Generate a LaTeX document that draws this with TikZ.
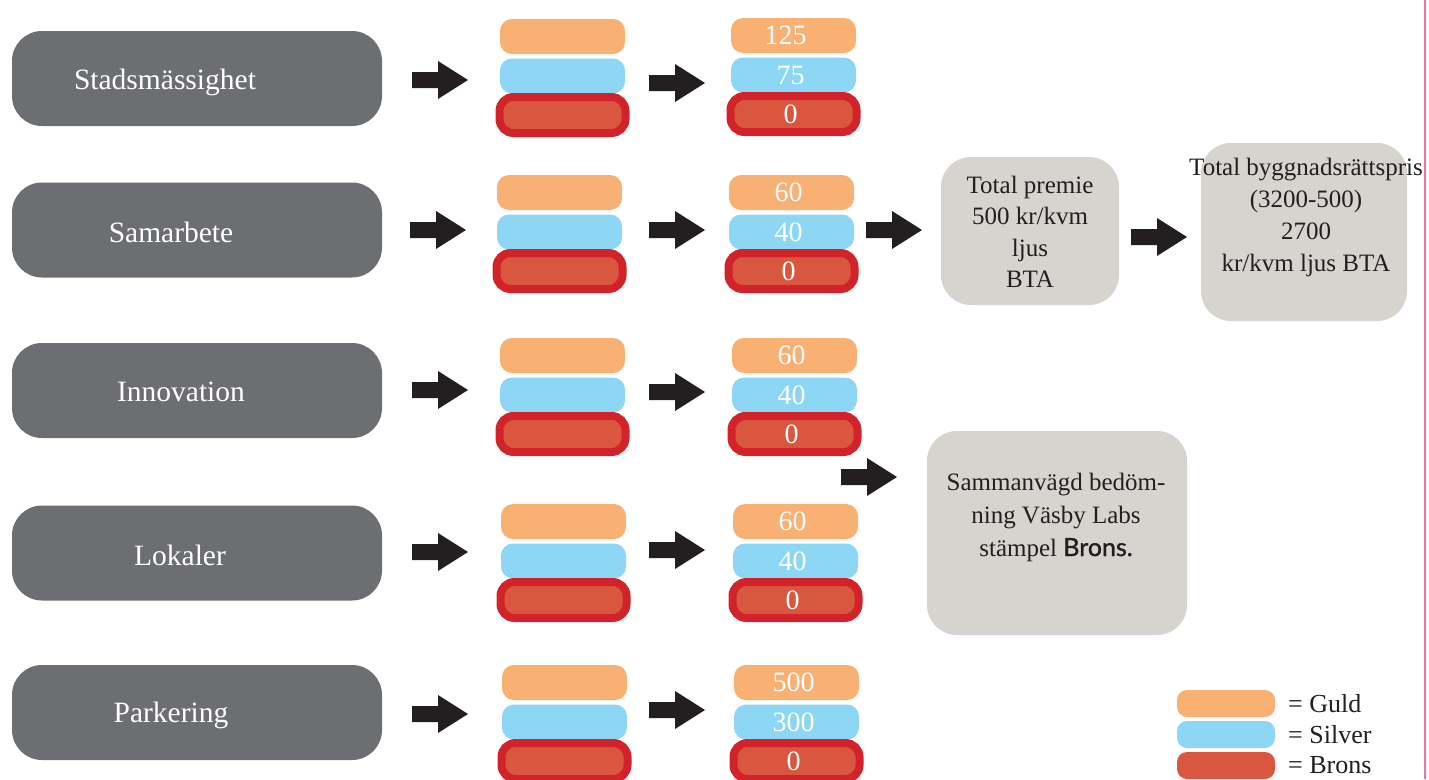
\documentclass[tikz,border=0pt]{standalone}
\usepackage{fontspec}
\setmainfont{Liberation Serif}
\newfontfamily\labsans{Lato}

\definecolor{labelgray}{HTML}{6D6E71}
\definecolor{panelgray}{HTML}{D7D3CE}
\definecolor{guld}{HTML}{F9B073}
\definecolor{silver}{HTML}{8DD7F5}
\definecolor{bronsfill}{HTML}{D9573F}
\definecolor{bronsedge}{HTML}{D2232A}
\definecolor{ink}{HTML}{231F20}
\definecolor{marginpink}{HTML}{F06EB4}

\tikzset{
  catbox/.style={fill=labelgray, rounded corners=30pt, minimum width=370pt, minimum height=95pt, inner sep=0pt},
  cattext/.style={text=white, font=\fontsize{29.5}{35}\selectfont, inner sep=0pt},
  medalfont/.style={text=white, font=\fontsize{28}{34}\selectfont, text depth=0pt},
  guldbox/.style={fill=guld, rounded corners=12pt, minimum width=125pt, minimum height=35pt, inner sep=0pt},
  silverbox/.style={fill=silver, rounded corners=12pt, minimum width=125pt, minimum height=35pt, inner sep=0pt},
  bronsbox/.style={fill=bronsfill, draw=bronsedge, line width=8pt, rounded corners=14pt, minimum width=126pt,
    minimum height=36pt, inner sep=0pt},
  panel/.style={fill=panelgray, rounded corners=30pt, inner sep=0pt},
  paneltext/.style={text=ink, align=center, inner sep=0pt},
  legendbox/.style={rounded corners=10pt, minimum width=98pt, minimum height=27pt, inner sep=0pt},
  legendtext/.style={text=ink, anchor=west, inner sep=0pt, font=\fontsize{26}{30}\selectfont},
  blockarrow/.pic={
    \fill[ink] (0,-8) -- (26,-8) -- (26,-19) -- (56,0) -- (26,19) -- (26,8) -- (0,8) -- cycle;
  }
}

% one stack of three medal bars: name, x centre, top y, texts, text shift
\newcommand\medalstack[7]{%
  \node[guldbox]   (#1g) at (#2,#3+17.5) {};
  \node[silverbox] (#1s) at (#2,#3+57)   {};
  \node[bronsbox]  (#1b) at (#2,#3+96)   {};
  \node[medalfont] (#1gt) at ([xshift=#7]#1g.center) {#4};
  \node[medalfont] (#1st) at ([xshift=-3pt]#1s.center) {#5};
  \node[medalfont] (#1bt) at ([xshift=-3pt]#1b.center) {#6};
}

\begin{document}
\begin{tikzpicture}[x=1pt,y=-1pt]
\useasboundingbox (0,0) rectangle (1429,779);
\fill[white] (0,0) rectangle (1429,779);

% category labels
\node[catbox] (cat1) at (197,78.5) {};
\node[catbox] (cat2) at (197,230) {};
\node[catbox] (cat3) at (197,390.5) {};
\node[catbox] (cat4) at (197,553) {};
\node[catbox] (cat5) at (197,712.5) {};
\node[cattext] (cat1t) at (165,82) {Stadsmässighet};
\node[cattext] (cat2t) at (171,232) {Samarbete};
\node[cattext] (cat3t) at (181,392) {Innovation};
\node[cattext] (cat4t) at (180,555) {Lokaler};
\node[cattext] (cat5t) at (171,715) {Parkering};

% medal stacks without values
\medalstack{a1}{562.5}{19}{}{}{}{0pt}
\medalstack{a2}{559.5}{175}{}{}{}{0pt}
\medalstack{a3}{562.5}{338}{}{}{}{0pt}
\medalstack{a4}{563.5}{504}{}{}{}{0pt}
\medalstack{a5}{564.5}{665}{}{}{}{0pt}

% medal stacks with values
\medalstack{b1}{793.5}{18}{125}{75}{0}{-8pt}
\medalstack{b2}{791.5}{175}{60}{40}{0}{-3pt}
\medalstack{b3}{794.5}{338}{60}{40}{0}{-3pt}
\medalstack{b4}{795.5}{504}{60}{40}{0}{-3pt}
\medalstack{b5}{796.5}{665}{500}{300}{0}{-3pt}

% block arrows
\pic at (412,80) {blockarrow};
\pic at (410,230) {blockarrow};
\pic at (412,390) {blockarrow};
\pic at (412,552) {blockarrow};
\pic at (412,714) {blockarrow};
\pic at (649,83) {blockarrow};
\pic at (649,230) {blockarrow};
\pic at (649,392) {blockarrow};
\pic at (649,550) {blockarrow};
\pic at (649,710) {blockarrow};
\pic at (866,230) {blockarrow};
\pic at (1131,237) {blockarrow};
\pic at (841,477) {blockarrow};

% result panels
\node[panel, minimum width=178pt, minimum height=148pt] (premie) at (1030,231) {};
\node[paneltext, font=\fontsize{25}{31.5}\selectfont] (premiet) at (1030,232)
  {Total premie\\500 kr/kvm\\ljus\\BTA};

\node[panel, minimum width=206pt, minimum height=178pt] (bygg) at (1304,232) {};
\node[paneltext, font=\fontsize{25}{32}\selectfont] (byggt) at (1306,217)
  {Total byggnadsrättspris\\(3200-500)\\2700\\kr/kvm ljus BTA};

\node[panel, minimum width=260pt, minimum height=204pt] (samman) at (1057,533) {};
\node[paneltext, font=\fontsize{25}{33}\selectfont] (sammant) at (1056,517)
  {Sammanvägd bedöm-\\ning Väsby Labs\\stämpel {\labsans\addfontfeature{FakeBold=1.2}Brons.}};

% legend
\node[legendbox, fill=guld] (lg) at (1226,703.5) {};
\node[legendbox, fill=silver] (ls) at (1226,734.5) {};
\node[legendbox, fill=bronsfill] (lb) at (1226,765.5) {};
\node[legendtext] (lgt) at (1288,704) {= Guld};
\node[legendtext] (lst) at (1288,735) {= Silver};
\node[legendtext] (lbt) at (1288,765) {= Brons};

% page margin rule
\draw[marginpink, line width=2pt] (1425,0) -- (1425,779);
\end{tikzpicture}
\end{document}
